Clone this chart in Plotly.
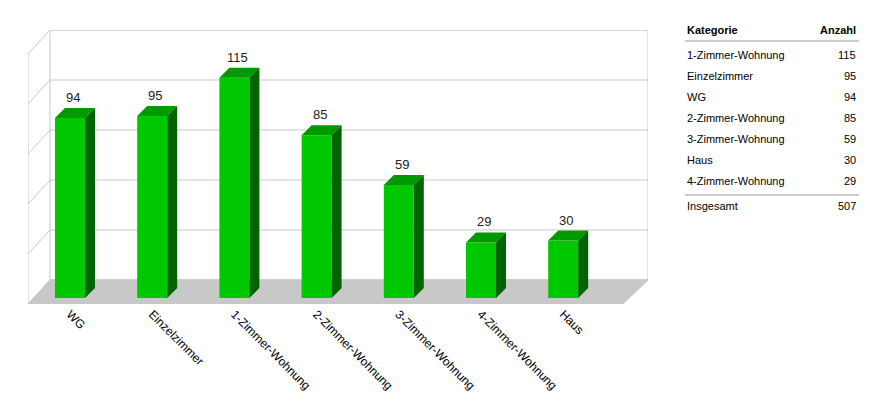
import plotly.graph_objects as go

categories = ["WG", "Einzelzimmer", "1-Zimmer-Wohnung", "2-Zimmer-Wohnung", "3-Zimmer-Wohnung", "4-Zimmer-Wohnung", "Haus"]
values = [94, 95, 115, 85, 59, 29, 30]
table_cats = ["1-Zimmer-Wohnung", "Einzelzimmer", "WG", "2-Zimmer-Wohnung", "3-Zimmer-Wohnung", "Haus", "4-Zimmer-Wohnung"]
table_vals = [115, 95, 94, 85, 59, 30, 29]

PX = 1.915           # pixels per value unit
L, T, B = 20, 22, 296
W = 620
base = 6 / PX
dep = 24 / PX
xs = [42 + i * 82.2 for i in range(len(categories))]
bw = 30

fig = go.Figure()
shapes = []
gray = "#c8c8c8"
shapes.append(dict(type="rect", x0=22, x1=W, y0=dep, y1=(B - T) / PX, line=dict(color=gray, width=1), fillcolor="white", layer="below"))
shapes.append(dict(type="path", path=f"M 0,0 L {W-25},0 L {W},{dep} L 22,{dep} Z", fillcolor=gray, line=dict(color=gray, width=1), layer="below"))
for k in range(6):
    y = dep + k * 50 / PX
    shapes.append(dict(type="line", x0=22, x1=W, y0=y, y1=y, line=dict(color=gray, width=1), layer="below"))
    shapes.append(dict(type="line", x0=0, x1=22, y0=y - dep, y1=y, line=dict(color=gray, width=1), layer="below"))
shapes.append(dict(type="line", x0=0, x1=0, y0=0, y1=5 * 50 / PX, line=dict(color=gray, width=1), layer="below"))

fig.add_trace(go.Bar(x=xs, y=values, base=base, width=bw, marker=dict(color="#00c800", line=dict(width=0)), hoverinfo="skip"))
d = 10 / PX
for x, v in zip(xs, values):
    top = v + base
    x0, x1 = x - bw / 2, x + bw / 2
    fig.add_trace(go.Scatter(x=[x0, x1, x1 + 10, x0 + 10, x0], y=[top, top, top + d, top + d, top], fill="toself",
                             fillcolor="#009a00", line=dict(width=0), mode="lines", hoverinfo="skip"))
    fig.add_trace(go.Scatter(x=[x1, x1 + 10, x1 + 10, x1, x1], y=[base, base + d, top + d, top, base], fill="toself",
                             fillcolor="#006400", line=dict(width=0), mode="lines", hoverinfo="skip"))
    fig.add_annotation(x=x + 3, y=top + d, text=str(v), showarrow=False, yanchor="bottom", yshift=1,
                       font=dict(size=13, color="#222"))

def px2p(px, py):
    return (px - L) / W, (B - py) / (B - T)
def add(px, py, text, anchor="left", bold=False):
    x, y = px2p(px, py)
    fig.add_annotation(x=x, y=y, xref="paper", yref="paper", text=f"<b>{text}</b>" if bold else text,
                       showarrow=False, xanchor=anchor, yanchor="middle", font=dict(size=11, color="#000"))
add(677, 22, "Kategorie", bold=True)
add(850, 22, "Anzahl", "right", bold=True)
for i, (c, v) in enumerate(zip(table_cats, table_vals)):
    add(677, 47 + i * 21, c)
    add(850, 47 + i * 21, str(v), "right")
add(677, 198, "Insgesamt")
add(850, 198, str(sum(table_vals)), "right")
for py in (33, 187):
    y = px2p(0, py)[1]
    shapes.append(dict(type="line", xref="paper", yref="paper", x0=px2p(677, 0)[0], x1=px2p(851, 0)[0], y0=y, y1=y,
                       line=dict(color="#999", width=1)))

fig.update_layout(
    width=884, height=415, margin=dict(l=L, r=884 - L - W, t=T, b=415 - B, autoexpand=False),
    plot_bgcolor="white", paper_bgcolor="white", showlegend=False, shapes=shapes,
    font=dict(family="Liberation Sans, Arial, sans-serif"),
    xaxis=dict(range=[0, W], tickvals=xs, ticktext=categories, tickangle=45, showgrid=False, zeroline=False,
               showline=False, ticks="", tickfont=dict(size=12, color="#000"), fixedrange=True, automargin=False),
    yaxis=dict(range=[0, (B - T) / PX], showgrid=False, zeroline=False, showticklabels=False, fixedrange=True, automargin=False),
)
fig.write_html("out.html")
